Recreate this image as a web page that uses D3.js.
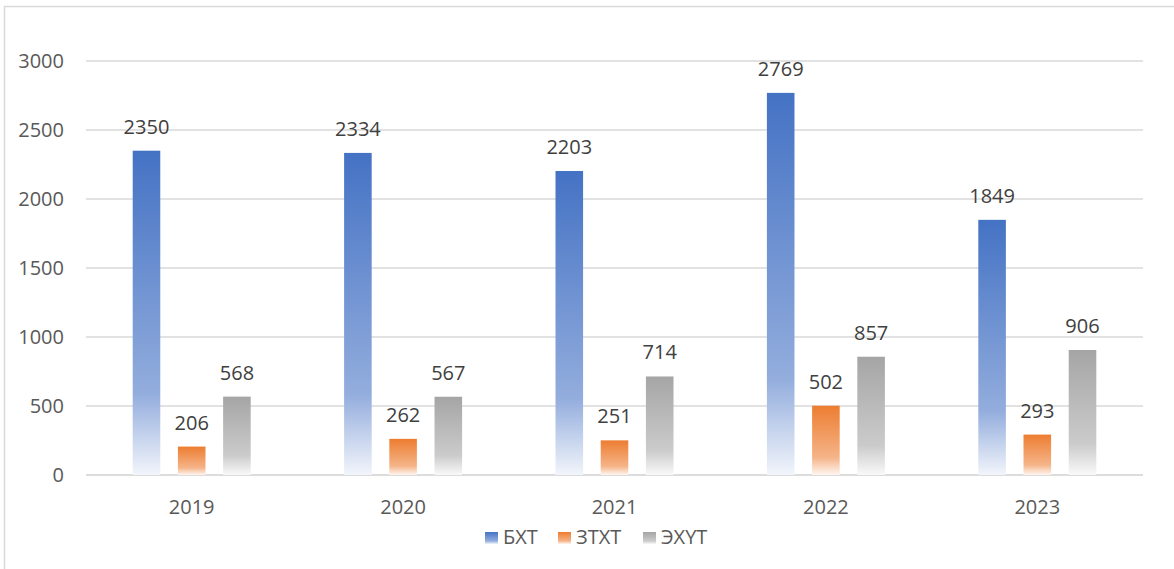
<!DOCTYPE html>
<html>
<head>
<meta charset="utf-8">
<script src="https://cdn.jsdelivr.net/npm/d3@7"></script>
<style>
  body { margin: 0; background: #fff; }
  svg { font-family: "Open Sans", "Noto Sans", sans-serif; }
</style>
</head>
<body>
<svg id="chart" width="1174" height="569"></svg>
<script>
var years = ["2019", "2020", "2021", "2022", "2023"];
var seriesNames = ["БХТ", "ЗТХТ", "ЭХҮТ"];
var bxt = [2350, 2334, 2203, 2769, 1849];
var ztxt = [206, 262, 251, 502, 293];
var exut = [568, 567, 714, 857, 906];
var yTicks = [0, 500, 1000, 1500, 2000, 2500, 3000];
var colors = ["#4472C4", "#ED7D31", "#A5A5A5"];

var svg = d3.select("#chart");
var defs = svg.append("defs");

// vertical fade, per bar
colors.forEach(function (c, i) {
  var g = defs.append("linearGradient")
    .attr("id", "grad" + i)
    .attr("x1", 0).attr("y1", 0).attr("x2", 0).attr("y2", 1);
  g.append("stop").attr("offset", "0%").attr("stop-color", c);
  g.append("stop").attr("offset", "75%").attr("stop-color", d3.interpolateRgb(c, "#fff")(0.42));
  g.append("stop").attr("offset", "100%").attr("stop-color", d3.interpolateRgb(c, "#fff")(0.93));
});

// chart frame
svg.append("rect")
  .attr("x", 4.5).attr("y", 6.5)
  .attr("width", 1180).attr("height", 580)
  .attr("fill", "none").attr("stroke", "#d9d9d9").attr("stroke-width", 1.5);

var x0 = d3.scaleBand().domain(years).range([86, 1143]);
var x1 = d3.scaleBand().domain(seriesNames).range([-59, 59]).paddingInner(0.39);
var y = d3.scaleLinear().domain([0, 3000]).range([475, 61]);

// gridlines
svg.append("g").selectAll("line")
  .data(yTicks)
  .enter().append("line")
  .attr("x1", 86).attr("x2", 1143)
  .attr("y1", function (d) { return y(d); })
  .attr("y2", function (d) { return y(d); })
  .attr("stroke", function (d) { return d === 0 ? "#d0d0d0" : "#d9d9d9"; })
  .attr("stroke-width", 1.5);

// y tick labels
svg.append("g").selectAll("text")
  .data(yTicks)
  .enter().append("text")
  .attr("x", 64)
  .attr("y", function (d) { return y(d); })
  .attr("dy", "0.35em")
  .attr("text-anchor", "end")
  .attr("font-size", 20)
  .attr("fill", "#595959")
  .text(function (d) { return d; });

// x labels
svg.append("g").selectAll("text")
  .data(years)
  .enter().append("text")
  .attr("x", function (d) { return x0(d) + x0.bandwidth() / 2; })
  .attr("y", 507)
  .attr("dy", "0.35em")
  .attr("text-anchor", "middle")
  .attr("font-size", 20)
  .attr("fill", "#595959")
  .text(function (d) { return d; });

var series = [bxt, ztxt, exut];
var rows = [];
years.forEach(function (yr, i) {
  series.forEach(function (s, j) {
    rows.push({ year: yr, name: seriesNames[j], idx: j, value: s[i] });
  });
});

var bars = svg.append("g").selectAll("g")
  .data(rows)
  .enter().append("g")
  .attr("transform", function (d) {
    return "translate(" + (x0(d.year) + x0.bandwidth() / 2 + x1(d.name)) + ",0)";
  });

bars.append("rect")
  .attr("x", 0)
  .attr("width", x1.bandwidth())
  .attr("y", function (d) { return y(d.value); })
  .attr("height", function (d) { return y(0) - y(d.value); })
  .attr("fill", function (d) { return "url(#grad" + d.idx + ")"; });

bars.append("text")
  .attr("x", x1.bandwidth() / 2)
  .attr("y", function (d) { return y(d.value) - 24; })
  .attr("dy", "0.35em")
  .attr("text-anchor", "middle")
  .attr("font-size", 20)
  .attr("fill", "#404040")
  .text(function (d) { return d.value; });

// legend
var legendX = [485, 558, 643];
var legend = svg.append("g").selectAll("g")
  .data(seriesNames)
  .enter().append("g")
  .attr("transform", function (d, i) { return "translate(" + legendX[i] + ",537)"; });

legend.append("rect")
  .attr("x", 0).attr("y", -5)
  .attr("width", 13).attr("height", 12)
  .attr("fill", function (d, i) { return "url(#grad" + i + ")"; });

legend.append("text")
  .attr("x", 18)
  .attr("dy", "0.35em")
  .attr("font-size", 20)
  .attr("fill", "#595959")
  .text(function (d) { return d; });
</script>
</body>
</html>
